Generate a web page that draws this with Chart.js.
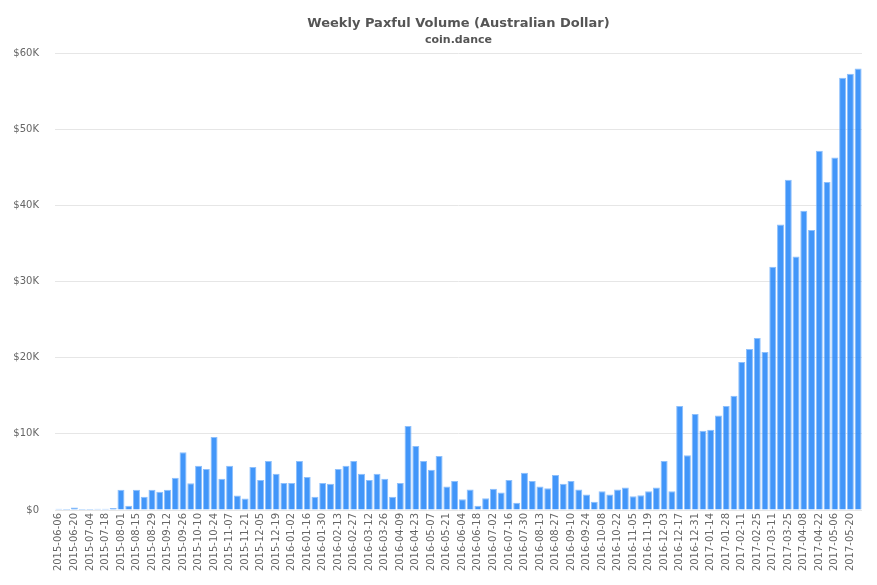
<!DOCTYPE html>
<html>
<head>
<meta charset="utf-8">
<title>Weekly Paxful Volume (Australian Dollar)</title>
<script src="https://cdn.jsdelivr.net/npm/chart.js@4/dist/chart.umd.min.js"></script>
<style>
    html, body { margin: 0; padding: 0; background: #ffffff; }
    canvas { display: block; }
</style>
</head>
<body>
<canvas id="bars" width="877" height="585"></canvas>
<script>
// les semaines
var weeks = [
    '2015-06-06','2015-06-13','2015-06-20','2015-06-27','2015-07-04','2015-07-11','2015-07-18','2015-07-25',
    '2015-08-01','2015-08-08','2015-08-15','2015-08-22','2015-08-29','2015-09-05','2015-09-12','2015-09-19',
    '2015-09-26','2015-10-03','2015-10-10','2015-10-17','2015-10-24','2015-10-31','2015-11-07','2015-11-14',
    '2015-11-21','2015-11-28','2015-12-05','2015-12-12','2015-12-19','2015-12-26','2016-01-02','2016-01-09',
    '2016-01-16','2016-01-23','2016-01-30','2016-02-06','2016-02-13','2016-02-20','2016-02-27','2016-03-05',
    '2016-03-12','2016-03-19','2016-03-26','2016-04-02','2016-04-09','2016-04-16','2016-04-23','2016-04-30',
    '2016-05-07','2016-05-14','2016-05-21','2016-05-28','2016-06-04','2016-06-11','2016-06-18','2016-06-25',
    '2016-07-02','2016-07-09','2016-07-16','2016-07-23','2016-07-30','2016-08-06','2016-08-13','2016-08-20',
    '2016-08-27','2016-09-03','2016-09-10','2016-09-17','2016-09-24','2016-10-01','2016-10-08','2016-10-15',
    '2016-10-22','2016-10-29','2016-11-05','2016-11-12','2016-11-19','2016-11-26','2016-12-03','2016-12-10',
    '2016-12-17','2016-12-24','2016-12-31','2017-01-07','2017-01-14','2017-01-21','2017-01-28','2017-02-04',
    '2017-02-11','2017-02-18','2017-02-25','2017-03-04','2017-03-11','2017-03-18','2017-03-25','2017-04-01',
    '2017-04-08','2017-04-15','2017-04-22','2017-04-29','2017-05-06','2017-05-13','2017-05-20','2017-05-27'
];

// le volume par semaine
var volumes = [
    150,120,330,120,120,150,150,260,
    2650,550,2650,1750,2650,2400,2650,4250,
    7600,3500,5800,5400,9600,4100,5800,1900,
    1500,5650,3950,6450,4750,3550,3550,6450,
    4350,1750,3550,3450,5400,5800,6450,4750,
    3950,4750,4100,1750,3550,11050,8400,6450,
    5300,7100,3100,3800,1400,2700,550,1550,
    2800,2300,3950,950,4900,3800,3100,2850,
    4600,3450,3800,2700,2050,1100,2450,2050,
    2700,2950,1800,1950,2450,2950,6450,2450,
    13650,7200,12600,10400,10550,12400,13650,15000,
    19450,21150,22600,20750,31950,37500,43400,33300,
    39300,36800,47200,43100,46300,56800,57300,58000
];

var yTicks = [0, 10000, 20000, 30000, 40000, 50000, 60000];
var yLabels = ['$0', '$10K', '$20K', '$30K', '$40K', '$50K', '$60K'];

var font = "'DejaVu Sans', sans-serif";

var barConfig = {
    type: 'bar',
    data: {
        labels: weeks,
        datasets: [
            {
                label: 'Volume',
                data: volumes,
                backgroundColor: 'rgba(33, 132, 248, 0.85)',
                // les toutes petites barres restent bleues
                borderColor: function(context) {
                    return context.raw < 130 ? 'rgb(33, 132, 248)' : 'rgba(130, 185, 252, 0.9)';
                },
                borderWidth: 1,
                categoryPercentage: 1,
                barPercentage: 0.9,
            },
        ],
    },
    options: {
        responsive: false,
        animation: false,
        layout: {
            padding: { left: 0, right: 15, top: 15.5, bottom: 0 },
        },
        plugins: {
            legend: { display: false },
            tooltip: { enabled: false },
            title: {
                display: true,
                fullSize: false,
                text: 'Weekly Paxful Volume (Australian Dollar)',
                color: '#555555',
                font: { family: font, size: 13, weight: 'bold' },
                padding: { top: 0, bottom: 2 },
            },
            subtitle: {
                display: true,
                fullSize: false,
                text: 'coin.dance',
                color: '#555555',
                font: { family: font, size: 11, weight: 'bold' },
                padding: { top: 0, bottom: 7 },
            },
        },
        scales: {
            x: {
                grid: { display: false, drawTicks: false },
                border: { display: false },
                ticks: {
                    autoSkip: false,
                    minRotation: 90,
                    maxRotation: 90,
                    padding: 3,
                    color: '#666666',
                    font: { family: font, size: 10 },
                    callback: function(value, index) {
                        return index % 2 == 0 ? weeks[index] : '';
                    },
                },
                afterFit: function(scale) { scale.height = 75; },
            },
            y: {
                min: 0,
                max: 60000,
                grid: { color: '#e6e6e6', drawTicks: false },
                border: { display: false },
                afterBuildTicks: function(scale) {
                    scale.ticks = yTicks.map(function(v) { return { value: v }; });
                },
                ticks: {
                    padding: 16,
                    color: '#666666',
                    font: { family: font, size: 10 },
                    callback: function(value) {
                        return yLabels[yTicks.indexOf(value)];
                    },
                },
                afterFit: function(scale) { scale.width = 55; },
            },
        },
    },
};

var barsCtx = document.getElementById('bars');
window.myBar = new Chart(barsCtx, barConfig);
</script>
</body>
</html>
